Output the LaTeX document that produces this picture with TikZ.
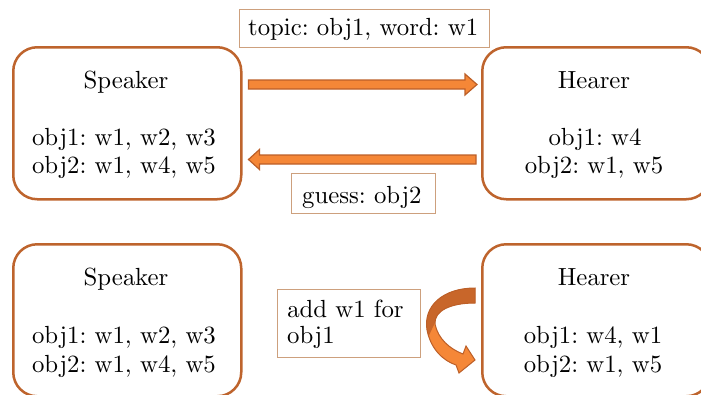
\documentclass[tikz,border=0pt]{standalone}
\usetikzlibrary{calc}
\font\lbl=cmr10 at 24.8pt
\frenchspacing
\definecolor{frame}{RGB}{190,100,45}
\definecolor{tag}{RGB}{205,160,125}
\definecolor{arrowfill}{RGB}{245,135,55}
\definecolor{arrowdark}{RGB}{200,102,42}
\definecolor{arrowline}{RGB}{188,95,40}
\tikzset{
  agent/.style={draw=frame, line width=2.5pt, rounded corners=24pt, fill=white,
    minimum width=228pt, minimum height=152pt, inner sep=0pt, anchor=north west},
  tagbox/.style={draw=tag, line width=1.4pt, inner sep=0pt, anchor=north west},
  txt/.style={font=\lbl, inner sep=0pt, anchor=base},
  txtl/.style={font=\lbl, inner sep=0pt, anchor=base west},
  fatarrow/.style={fill=arrowfill, draw=arrowline, line width=1.2pt, line join=miter},
  bendshape/.style={insert path={
    (475,288) .. controls (443,288) and (423,306) .. (427,330)
    .. controls (431,350) and (444,361) .. (456,365)
    -- (459,373) -- (475,360) -- (466,346) -- (463,354)
    .. controls (450,349) and (438,339) .. (435,324)
    .. controls (434,311) and (450,303) .. (475,303) -- cycle}}
}
\begin{document}
\begin{tikzpicture}[x=1pt,y=-1pt]
\useasboundingbox (0,0) rectangle (701,394);
\clip (0,0) rectangle (701,394);

% agent boxes
\node[agent] (spkA) at (12,46) {};
\node[agent] (hrA) at (481,46) {};
\node[agent] (spkB) at (12,243) {};
\node[agent] (hrB) at (481,243) {};

% speaker, first round
\node[txt] (spkAname) at (126,88) {Speaker};
\node[txt] (spkAo1) at (124,145) {obj1: w1, w2, w3};
\node[txt] (spkAo2) at (124,173) {obj2: w1, w4, w5};
% hearer, first round
\node[txt] (hrAname) at (594,88) {Hearer};
\node[txt] (hrAo1) at (595,145) {obj1: w4};
\node[txt] (hrAo2) at (594,173) {obj2: w1, w5};
% speaker, second round
\node[txt] (spkBname) at (126,285) {Speaker};
\node[txt] (spkBo1) at (124,343) {obj1: w1, w2, w3};
\node[txt] (spkBo2) at (124,372) {obj2: w1, w4, w5};
% hearer, second round
\node[txt] (hrBname) at (594,285) {Hearer};
\node[txt] (hrBo1) at (593,343) {obj1: w4, w1};
\node[txt] (hrBo2) at (593,372) {obj2: w1, w5};

% message labels
\node[tagbox, minimum width=250pt, minimum height=38pt] (topicBox) at (239,9) {};
\node[txtl] (topicTxt) at (248,35) {topic: obj1, word: w1};
\node[tagbox, minimum width=144pt, minimum height=40pt] (guessBox) at (291,173) {};
\node[txtl] (guessTxt) at (302,203) {guess: obj2};
\node[tagbox, minimum width=143pt, minimum height=68pt] (addBox) at (277,289) {};
\node[txtl] (addTxtA) at (287,317) {add w1 for};
\node[txtl] (addTxtB) at (287,343) {obj1};

% speaker -> hearer
\coordinate (fwdTail) at ($(spkA.east |- 0,84.5)+(6,0)$);
\coordinate (fwdTip) at ($(hrA.west |- 0,84.5)+(-4,0)$);
\draw[fatarrow] ($(fwdTail)+(0,-4.5)$) -- ($(fwdTip)+(-12,-4.5)$) -- ($(fwdTip)+(-12,-10.5)$)
  -- (fwdTip) -- ($(fwdTip)+(-12,10.5)$) -- ($(fwdTip)+(-12,4.5)$) -- ($(fwdTail)+(0,4.5)$) -- cycle;

% hearer -> speaker
\coordinate (backTail) at ($(hrA.west |- 0,159.5)+(-5,0)$);
\coordinate (backTip) at ($(spkA.east |- 0,159.5)+(6,0)$);
\draw[fatarrow] ($(backTail)+(0,-4.5)$) -- ($(backTip)+(11,-4.5)$) -- ($(backTip)+(11,-10)$)
  -- (backTip) -- ($(backTip)+(11,10)$) -- ($(backTip)+(11,4.5)$) -- ($(backTail)+(0,4.5)$) -- cycle;

% hearer updates its own lexicon
\path[fill=arrowfill, bendshape];
\begin{scope}
  \clip (415,280) -- (480,280) -- (480,304) -- (439,314) -- (425,344) -- (415,344) -- cycle;
  \path[fill=arrowdark, bendshape];
\end{scope}
\path[draw=arrowline, line width=1pt, line join=miter, bendshape];
\end{tikzpicture}
\end{document}
